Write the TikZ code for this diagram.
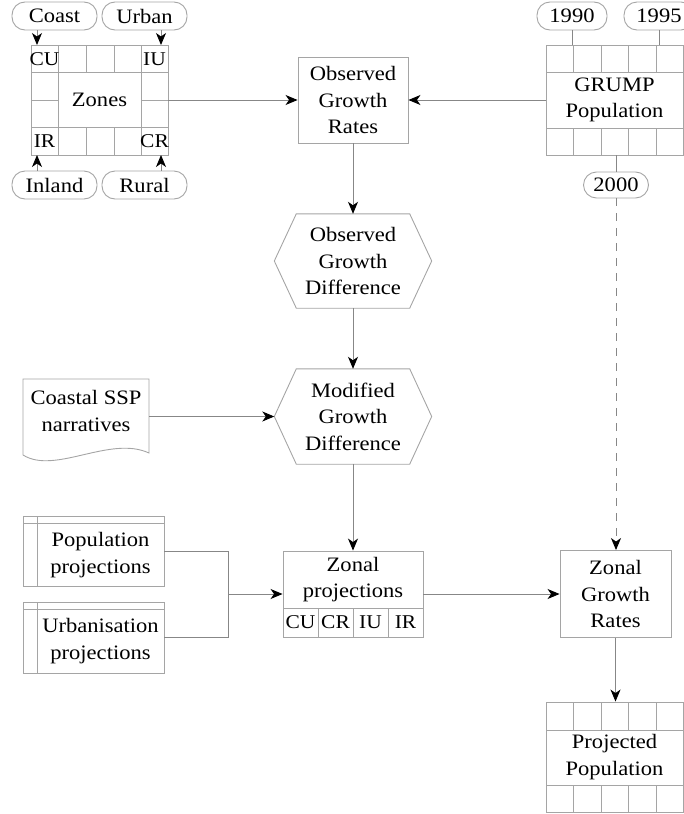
\documentclass[tikz,border=0pt]{standalone}
\usepackage{fontspec}
\setmainfont[FakeStretch=1.1]{Liberation Serif}
\usetikzlibrary{arrows.meta}
\definecolor{bord}{RGB}{165,165,165}
\definecolor{conn}{RGB}{135,135,135}
\newcommand\mainfs{\fontsize{20.5}{26.5}\selectfont}
\newcommand\cellfs{\fontsize{19.5}{22}\selectfont}
\tikzset{
 box/.style={draw=bord, line width=0.9pt, rectangle, inner sep=0pt, align=center, font=\mainfs},
 pill/.style={draw=bord, line width=0.9pt, rectangle, rounded corners=13pt, inner sep=0pt, minimum height=28pt, font=\mainfs},
 plain/.style={inner sep=0pt, align=center, font=\mainfs},
 cell/.style={inner sep=0pt, font=\cellfs},
 arr/.style={draw=conn, line width=0.9pt, -{Stealth[length=12pt,width=10pt,inset=3.5pt,color=black,fill=black]}},
 ln/.style={draw=conn, line width=0.9pt},
 gl/.style={draw=bord, line width=0.9pt},
}
\begin{document}
\begin{tikzpicture}[x=1pt,y=-1pt]
\useasboundingbox (0,0) rectangle (684,814);
% Zones grid
\node[box, minimum width=137pt, minimum height=110pt] (zones) at (99.5,100) {Zones};
\draw[gl] (31,72) -- (168,72) (31,127) -- (168,127) (58,45) -- (58,155) (141,45) -- (141,155)
 (86,45) -- (86,72) (114,45) -- (114,72) (86,127) -- (86,155) (114,127) -- (114,155)
 (31,100) -- (58,100) (141,100) -- (168,100);
\node[cell] (cu) at (44.5,59) {CU};
\node[cell] (iu) at (154.5,59) {IU};
\node[cell] (ir) at (44.5,141) {IR};
\node[cell] (cr) at (154.5,141) {CR};
\node[pill, minimum width=85pt] (coast) at (54.5,16) {Coast};
\node[pill, minimum width=85pt] (urban) at (144.5,16) {Urban};
\node[pill, minimum width=85pt] (inland) at (54.5,185) {Inland};
\node[pill, minimum width=85pt] (rural) at (144.5,185) {Rural};
\coordinate (cuin) at (37,45);
\coordinate (iuin) at (161,45);
\coordinate (irin) at (37,155);
\coordinate (crin) at (161,155);
\draw[arr] (coast.south -| cuin) -- (cuin);
\draw[arr] (urban.south -| iuin) -- (iuin);
\draw[arr] (inland.north -| irin) -- (irin);
\draw[arr] (rural.north -| crin) -- (crin);
% GRUMP
\node[box, minimum width=137pt, minimum height=110pt] (grump) at (614.5,100) {GRUMP\\Population};
\draw[gl] (546,72) -- (683,72) (546,128) -- (683,128)
 (573.5,45) -- (573.5,72) (601,45) -- (601,72) (628.5,45) -- (628.5,72) (656,45) -- (656,72)
 (573.5,128) -- (573.5,155) (601,128) -- (601,155) (628.5,128) -- (628.5,155) (656,128) -- (656,155);
\node[pill, minimum width=70pt] (y1990) at (572,16) {1990};
\node[pill, minimum width=70pt] (y1995) at (659,16) {1995};
\draw[ln] (y1990.south) -- (y1990.south |- grump.north);
\draw[ln] (y1995.south) -- (y1995.south |- grump.north);
\node[pill, minimum width=65pt, minimum height=26pt] (y2000) at (616,185) {2000};
\draw[ln] (y2000.north |- grump.south) -- (y2000.north);
% Observed growth rates
\node[box, minimum width=110pt, minimum height=86pt] (ogr) at (353,100) {Observed\\Growth\\Rates};
\draw[arr] (zones.east) -- (ogr.west);
\draw[arr] (grump.west) -- (ogr.east);
% Observed growth difference
\node[plain, minimum width=157pt, minimum height=94pt] (ogd) at (353,261) {Observed\\Growth\\Difference};
\draw[gl] (ogd.west) -- ([xshift=22pt]ogd.north west) -- ([xshift=-22pt]ogd.north east) -- (ogd.east)
 -- ([xshift=-22pt]ogd.south east) -- ([xshift=22pt]ogd.south west) -- cycle;
\draw[arr] (ogr.south) -- (ogd.north);
% Modified growth difference
\node[plain, minimum width=157pt, minimum height=95pt] (mgd) at (353,416.5) {Modified\\Growth\\Difference};
\draw[gl] (mgd.west) -- ([xshift=22pt]mgd.north west) -- ([xshift=-22pt]mgd.north east) -- (mgd.east)
 -- ([xshift=-22pt]mgd.south east) -- ([xshift=22pt]mgd.south west) -- cycle;
\draw[arr] (ogd.south) -- (mgd.north);
% Coastal SSP narratives
\node[plain, minimum width=126pt, minimum height=64pt] (ssp) at (86,411) {Coastal SSP\\narratives};
\draw[gl] (23,455) -- (23,379) -- (149,379) -- (149,453) .. controls (110,435) and (55,475) .. (23,455);
\draw[arr] (mgd.west -| ssp.east) -- (mgd.west);
% Population / Urbanisation projections
\node[box, minimum width=141pt, minimum height=70pt] (pop) at (93.5,551) {};
\draw[gl] (23,523) -- (164,523) (37,516) -- (37,586);
\node[plain] (poptxt) at (100.5,555) {Population\\projections};
\node[box, minimum width=141pt, minimum height=71pt] (urb) at (93.5,637.5) {};
\draw[gl] (23,609) -- (164,609) (37,602) -- (37,673);
\node[plain] (urbtxt) at (100.5,641) {Urbanisation\\projections};
% Zonal projections
\node[box, minimum width=140pt, minimum height=86pt] (zp) at (353,594) {};
\node[plain] (zptxt) at (353,579.5) {Zonal\\projections};
\draw[gl] (283,608) -- (423,608) (318,608) -- (318,637) (353,608) -- (353,637) (388,608) -- (388,637);
\node[cell] (zcu) at (300.5,622.5) {CU};
\node[cell] (zcr) at (335.5,622.5) {CR};
\node[cell] (ziu) at (370.5,622.5) {IU};
\node[cell] (zir) at (405.5,622.5) {IR};
\draw[arr] (mgd.south) -- (zp.north);
\coordinate (jn) at (228,594);
\draw[ln] (pop.east) -| (jn);
\draw[ln] (urb.east) -| (jn);
\draw[arr] (jn) -- (jn -| zp.west);
% Zonal growth rates
\node[box, minimum width=111pt, minimum height=87pt] (zgr) at (615.5,594) {Zonal\\Growth\\Rates};
\draw[arr] (zp.east) -- (zgr.west);
\draw[arr, dash pattern=on 8pt off 7pt] (y2000.south) -- (y2000.south |- zgr.north);
% Projected population
\node[box, minimum width=137pt, minimum height=110pt] (pp) at (614.5,757) {Projected\\Population};
\draw[gl] (546,730) -- (683,730) (546,785) -- (683,785)
 (573.5,702) -- (573.5,730) (601,702) -- (601,730) (628.5,702) -- (628.5,730) (656,702) -- (656,730)
 (573.5,785) -- (573.5,812) (601,785) -- (601,812) (628.5,785) -- (628.5,812) (656,785) -- (656,812);
\draw[arr] (zgr.south) -- (zgr.south |- pp.north);
\end{tikzpicture}
\end{document}
